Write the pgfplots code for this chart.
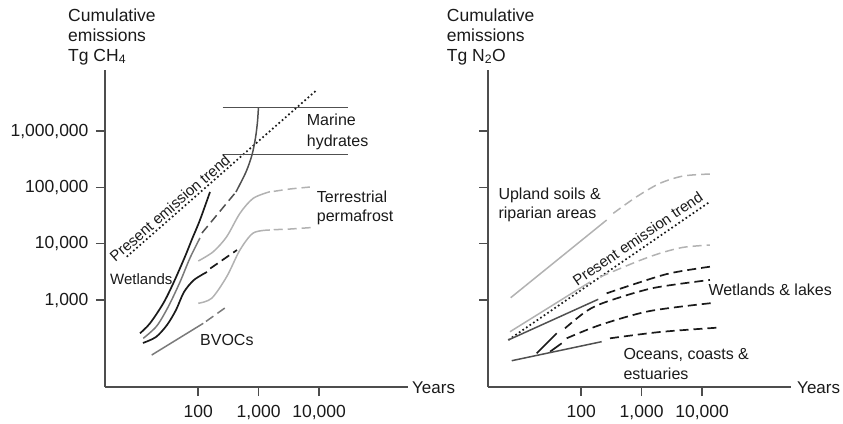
\documentclass[border=0pt]{standalone}
\usepackage{pgfplots}
\pgfplotsset{compat=1.18}
\usepackage{fontspec}
\setmainfont{Liberation Sans}
\definecolor{axisc}{HTML}{4D4D4D}
\definecolor{blk}{HTML}{1A1A1A}
\definecolor{dk}{HTML}{505050}
\definecolor{mid}{HTML}{7A7A7A}
\definecolor{lg}{HTML}{B2B2B2}
\tikzset{
  blkl/.style={draw=blk, line width=1.7pt},
  dkl/.style={draw=dk, line width=1.5pt},
  midl/.style={draw=mid, line width=1.5pt},
  lgl/.style={draw=lg, line width=1.5pt},
  dsh/.style={dash pattern=on 9pt off 5pt},
  trend/.style={draw=blk, line width=1.7pt, dash pattern=on 1.7pt off 2.6pt},
}
\pgfplotsset{
  panel/.style={
    scale only axis, width=303pt, height=317pt, anchor=south west,
    xmin=0.46, xmax=5.47, ymin=1.455, ymax=7.086,
    axis lines=left, axis line style={-, draw=axisc, line width=1.3pt},
    xtick={2,3,4}, xticklabels={100,{1,000},{10,000}},
    ytick={3,4,5,6},
    tick align=outside, major tick length=9pt,
    tick style={draw=axisc, line width=1.3pt},
    ticklabel style={font=\fontsize{17.5}{17.5}\selectfont, text=blk},
    xticklabel style={yshift=-6pt},
    yticklabel style={xshift=-4pt},
    clip=false,
    every axis plot/.append style={no markers},
  },
}
\begin{document}
\begin{tikzpicture}[x=1pt,y=1pt]
\path[use as bounding box] (0,0) rectangle (843,423);
% ---------------- Left panel: CH4 ----------------
\begin{axis}[panel, at={(105pt,36pt)},
  yticklabels={{1,000},{10,000},{100,000},{1,000,000}}]
% present emission trend
\addplot[trend] coordinates {(0.819,3.769) (3.948,6.718)};
% marine hydrates
\addplot[dkl] coordinates {(2.405,6.416) (4.481,6.416)};
\addplot[dkl] coordinates {(2.405,5.588) (4.481,5.588)};
\addplot[dkl, smooth] coordinates {(2.625,4.919) (2.791,5.274) (2.890,5.576) (2.948,5.878) (2.981,6.162) (2.997,6.416)};
\addplot[dkl, dsh] coordinates {(2.063,4.190) (2.625,4.919)};
% wetlands
\addplot[blkl, smooth] coordinates {(1.039,2.409) (1.204,2.586) (1.424,2.942) (1.589,3.297) (1.782,3.769) (1.893,4.066) (2.030,4.421) (2.196,4.919)};
\addplot[midl, smooth] coordinates {(1.093,2.320) (1.315,2.538) (1.506,2.881) (1.700,3.320) (1.865,3.746) (2.030,4.102)};
\addplot[blkl, smooth] coordinates {(1.088,2.237) (1.303,2.343) (1.485,2.556) (1.634,2.823) (1.766,3.142) (1.931,3.356) (2.146,3.498)};
\addplot[blkl, dsh] coordinates {(2.20,3.56) (2.642,3.888)};
% BVOCs
\addplot[midl] coordinates {(1.232,2.023) (2.085,2.586)};
\addplot[midl, dsh] coordinates {(2.13,2.62) (2.472,2.881)};
% terrestrial permafrost
\addplot[lgl, smooth] coordinates {(2.002,3.693) (2.250,3.858) (2.472,4.125) (2.691,4.540) (2.911,4.807) (3.187,4.924)};
\addplot[lgl, dsh, smooth] coordinates {(3.25,4.93) (3.518,4.972) (3.848,5.007)};
\addplot[lgl, smooth] coordinates {(2.002,2.942) (2.224,3.031) (2.472,3.414) (2.691,3.888) (2.911,4.190) (3.187,4.244)};
\addplot[lgl, dsh, smooth] coordinates {(3.25,4.25) (3.518,4.261) (3.881,4.288)};
\end{axis}
% ---------------- Right panel: N2O ----------------
\begin{axis}[panel, at={(488pt,36pt)}, yticklabels={{},{},{},{}}]
% upland soils
\addplot[lgl] coordinates {(0.835,3.041) (2.422,4.421)};
\addplot[lgl, dsh, smooth] coordinates {(2.531,4.540) (2.918,4.835) (3.303,5.073) (3.688,5.203) (4.129,5.238)};
% present emission trend
\addplot[trend] coordinates {(0.796,2.290) (4.129,4.746)};
% second light grey
\addplot[lgl] coordinates {(0.824,2.437) (2.146,3.320)};
\addplot[lgl, dsh, smooth] coordinates {(2.311,3.409) (2.918,3.681) (3.303,3.830) (3.688,3.936) (4.129,3.977)};
% wetlands & lakes
\addplot[dkl] coordinates {(0.796,2.290) (2.283,3.013)};
\addplot[blkl, dsh, smooth] coordinates {(2.422,3.119) (2.918,3.297) (3.468,3.475) (4.129,3.592)};
\addplot[blkl] coordinates {(1.265,2.054) (1.596,2.409)};
\addplot[blkl, dsh, smooth] coordinates {(1.733,2.498) (2.091,2.805) (2.422,2.970) (3.192,3.213) (4.129,3.356)};
\addplot[blkl] coordinates {(1.485,2.082) (1.678,2.231)};
\addplot[blkl, dsh, smooth] coordinates {(1.761,2.320) (2.311,2.556) (3.138,2.805) (4.212,2.952)};
% oceans, coasts & estuaries
\addplot[dkl] coordinates {(0.852,1.922) (2.339,2.260)};
\addplot[blkl, dsh, smooth] coordinates {(2.477,2.320) (3.303,2.432) (4.240,2.508)};
\end{axis}
% ---------------- Titles and labels ----------------
\begin{scope}[every node/.style={inner sep=0pt, text=blk}]
\node[anchor=base west, font=\fontsize{17.5}{17.5}\selectfont] at (68,401.3) {Cumulative};
\node[anchor=base west, font=\fontsize{17.5}{17.5}\selectfont] at (68,381.5) {emissions};
\node[anchor=base west, font=\fontsize{17.5}{17.5}\selectfont] at (68,361.7) {Tg CH\textsubscript{4}};
\node[anchor=base west, font=\fontsize{17.5}{17.5}\selectfont] at (446.7,401.3) {Cumulative};
\node[anchor=base west, font=\fontsize{17.5}{17.5}\selectfont] at (446.7,381.5) {emissions};
\node[anchor=base west, font=\fontsize{17.5}{17.5}\selectfont] at (446.7,361.7) {Tg N\textsubscript{2}O};
\node[anchor=west, font=\fontsize{17}{17}\selectfont] at (412,35) {Years};
\node[anchor=west, font=\fontsize{17}{17}\selectfont] at (797,35) {Years};
% left annotations
\node[anchor=base west, font=\fontsize{16}{16}\selectfont] at (306.7,297) {Marine};
\node[anchor=base west, font=\fontsize{16}{16}\selectfont] at (306.7,276.3) {hydrates};
\node[anchor=base west, font=\fontsize{16}{16}\selectfont] at (316.7,220.3) {Terrestrial};
\node[anchor=base west, font=\fontsize{16}{16}\selectfont] at (316.7,201.3) {permafrost};
\node[anchor=base west, font=\fontsize{15}{15}\selectfont] at (110,138) {Wetlands};
\node[anchor=base west, font=\fontsize{16}{16}\selectfont] at (200,77.3) {BVOCs};
\node[anchor=base, rotate=41, font=\fontsize{15}{15}\selectfont] at (173.3,211) {Present emission trend};
% right annotations
\node[anchor=base west, font=\fontsize{16}{16}\selectfont] at (498.3,223) {Upland soils \&};
\node[anchor=base west, font=\fontsize{16}{16}\selectfont] at (498.3,204) {riparian areas};
\node[anchor=base, rotate=34.5, font=\fontsize{15}{15}\selectfont] at (640.7,180) {Present emission trend};
\node[anchor=base west, font=\fontsize{16}{16}\selectfont] at (708.3,127) {Wetlands \& lakes};
\node[anchor=base west, font=\fontsize{16}{16}\selectfont] at (623.3,63.7) {Oceans, coasts \&};
\node[anchor=base west, font=\fontsize{16}{16}\selectfont] at (623.3,43.5) {estuaries};
\end{scope}
\end{tikzpicture}
\end{document}
